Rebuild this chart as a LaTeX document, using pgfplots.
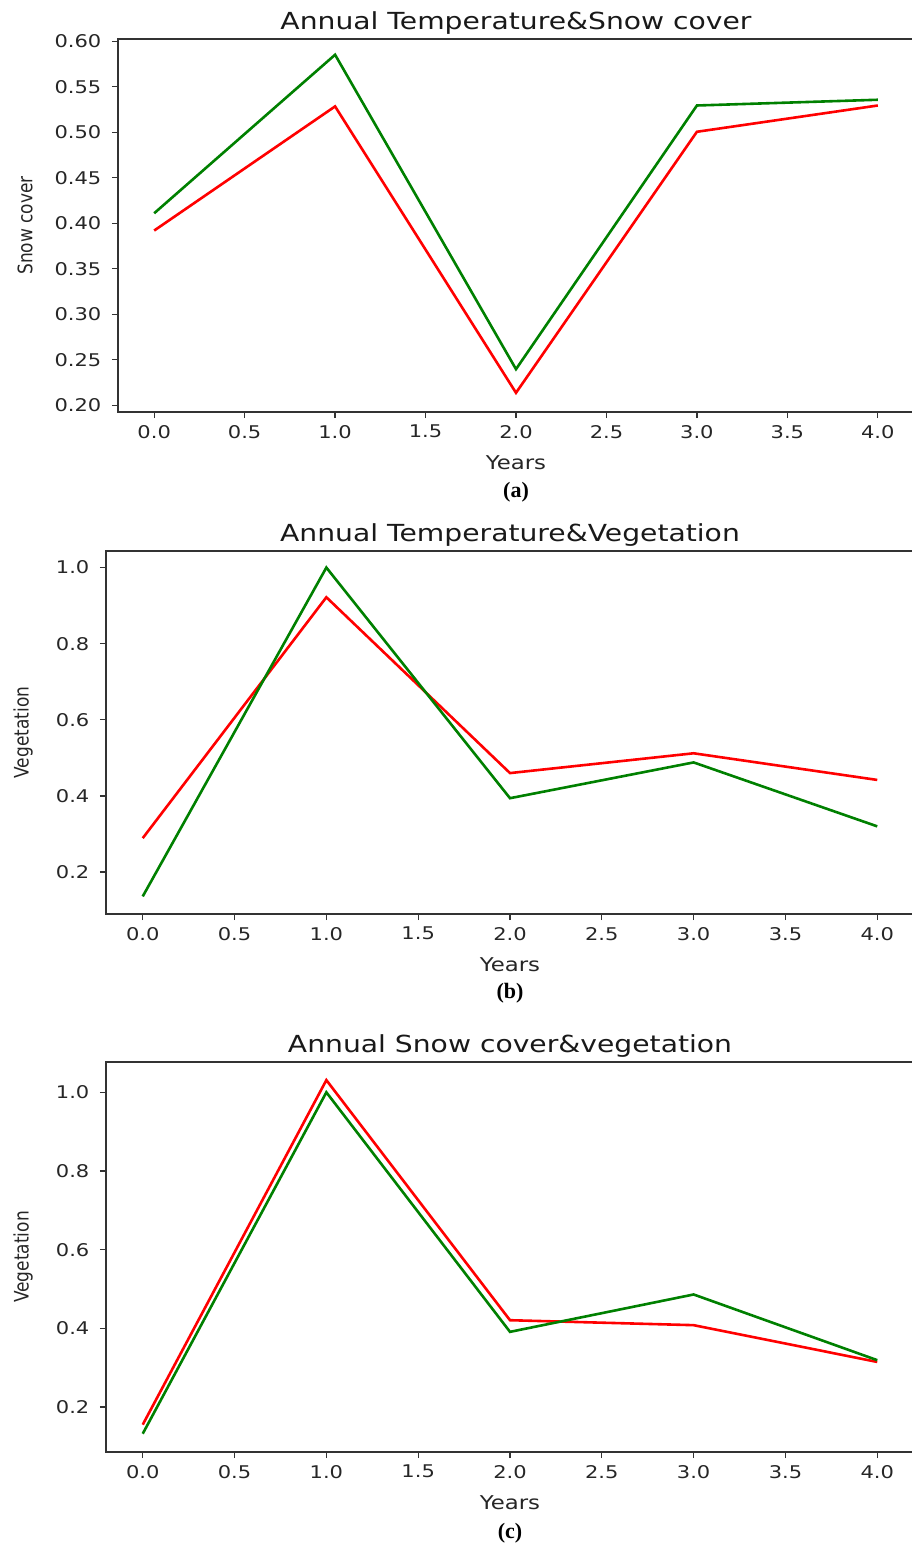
\documentclass[border=0pt]{standalone}
\usepackage{fontspec}
\setmainfont{DejaVu Sans}[FakeStretch=1.2]
\newfontfamily\ylfont{DejaVu Sans}[FakeStretch=0.85]
\newfontfamily\capfont{Liberation Serif}
\usepackage{pgfplots}
\pgfplotsset{compat=1.18}
\definecolor{mplred}{RGB}{255,0,0}
\definecolor{mplgreen}{RGB}{0,128,0}
\pgfplotsset{
  mystyle/.style={
    scale only axis,
    xmin=-0.2, xmax=4.2,
    xtick={0,0.5,1,1.5,2,2.5,3,3.5,4},
    axis line style={line width=1.3pt, black!80},
    every tick/.style={line width=1.3pt, black!80},
    major tick length=6pt,
    tick align=outside,
    xtick pos=bottom, ytick pos=left,
    /pgf/number format/assume math mode=true,
    xticklabel style={/pgf/number format/fixed, /pgf/number format/fixed zerofill, /pgf/number format/precision=1},
    ticklabel style={font=\fontsize{17.5}{17.5}\selectfont, text=black!85},
    xticklabel style={anchor=north, inner sep=0pt, yshift=-7pt},
    yticklabel style={anchor=east, inner sep=0pt, xshift=-10.5pt},
    title style={font=\fontsize{23.5}{23.5}\selectfont, at={(axis description cs:0.5,1)}, anchor=base, inner sep=0pt, yshift=4pt, text=black!90},
    xlabel={Years},
    xlabel style={font=\fontsize{19}{19}\selectfont, anchor=base, inner sep=0pt, text=black!85},
    ylabel style={font=\ylfont\fontsize{20}{20}\selectfont, anchor=center, inner sep=0pt, text=black!85},
    every axis plot/.append style={line width=2.6pt, no markers, line join=miter},
  }
}
\begin{document}
\begin{tikzpicture}
\useasboundingbox (0pt,0pt) rectangle (912pt,-1553pt);
% (a)
\begin{axis}[mystyle, at={(118pt,-412pt)}, anchor=south west,
  width=796pt, height=373pt,
  ymin=0.1925, ymax=0.6026,
  ytick={0.20,0.25,0.30,0.35,0.40,0.45,0.50,0.55,0.60},
  yticklabel style={/pgf/number format/fixed, /pgf/number format/fixed zerofill, /pgf/number format/precision=2},
  title={Annual Temperature\&Snow cover},
  ylabel={Snow cover},
  xlabel style={at={(axis description cs:0.5,-0.155)}},
  ylabel style={at={(axis description cs:-0.1168,0.5)}},
]
\addplot[mplred] coordinates {(0,0.392) (1,0.5285) (2,0.2136) (3,0.5006) (4,0.5295)};
\addplot[mplgreen] coordinates {(0,0.411) (1,0.5853) (2,0.2396) (3,0.5295) (4,0.5358)};
\end{axis}
\node[font=\capfont\bfseries\fontsize{22}{22}\selectfont] at (516pt,-492pt) {(a)};
% (b)
\begin{axis}[mystyle, at={(106pt,-914pt)}, anchor=south west,
  width=808pt, height=363pt,
  ymin=0.0897, ymax=1.0435,
  ytick={0.2,0.4,0.6,0.8,1.0},
  yticklabel style={/pgf/number format/fixed, /pgf/number format/fixed zerofill, /pgf/number format/precision=1},
  title={Annual Temperature\&Vegetation},
  ylabel={Vegetation},
  xlabel style={at={(axis description cs:0.5,-0.157)}},
  ylabel style={at={(axis description cs:-0.1027,0.5)}},
]
\addplot[mplred] coordinates {(0,0.289) (1,0.922) (2,0.460) (3,0.512) (4,0.442)};
\addplot[mplgreen] coordinates {(0,0.136) (1,1.0) (2,0.394) (3,0.488) (4,0.320)};
\end{axis}
\node[font=\capfont\bfseries\fontsize{22}{22}\selectfont] at (510pt,-993pt) {(b)};
% (c)
\begin{axis}[mystyle, at={(106pt,-1452pt)}, anchor=south west,
  width=808pt, height=390pt,
  ymin=0.0855, ymax=1.077,
  ytick={0.2,0.4,0.6,0.8,1.0},
  yticklabel style={/pgf/number format/fixed, /pgf/number format/fixed zerofill, /pgf/number format/precision=1},
  title={Annual Snow cover\&vegetation},
  ylabel={Vegetation},
  xlabel style={at={(axis description cs:0.5,-0.148)}},
  ylabel style={at={(axis description cs:-0.1027,0.5)}},
]
\addplot[mplred] coordinates {(0,0.155) (1,1.031) (2,0.4206) (3,0.408) (4,0.3145)};
\addplot[mplgreen] coordinates {(0,0.132) (1,1.0) (2,0.391) (3,0.486) (4,0.319)};
\end{axis}
\node[font=\capfont\bfseries\fontsize{22}{22}\selectfont] at (510pt,-1533pt) {(c)};
\end{tikzpicture}
\end{document}
